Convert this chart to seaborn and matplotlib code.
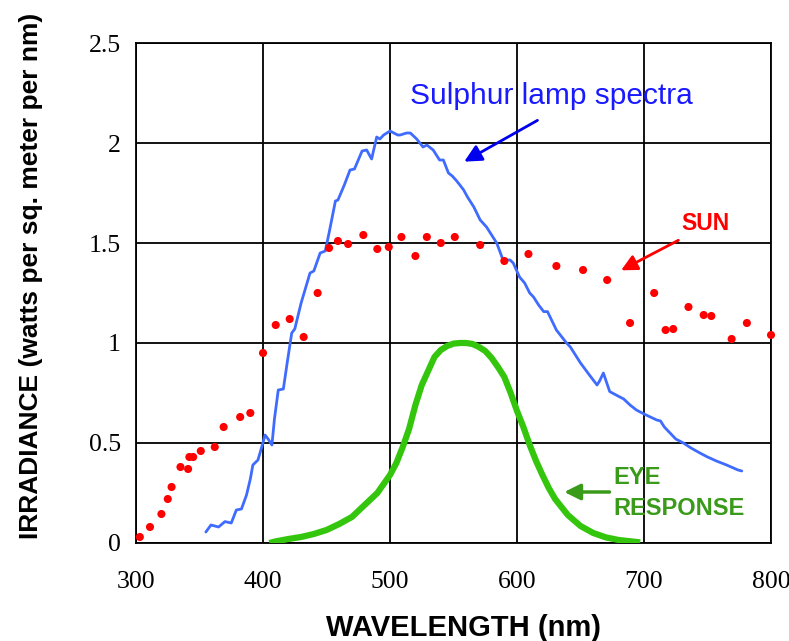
import numpy as np
import pandas as pd
import matplotlib
matplotlib.use("Agg")
import matplotlib.pyplot as plt
import seaborn as sns

# sun irradiance (red dots)
sun_nm = [303, 311, 320, 325, 328, 335, 341, 342, 345, 351, 362, 369, 382, 390,
          400, 410, 421, 432, 443, 452, 459, 467, 479, 490, 499, 509, 520, 529,
          540, 551, 571, 590, 609, 631, 652, 671, 689, 708, 717, 723, 735, 747,
          753, 769, 781, 800]
sun_val = [0.03, 0.08, 0.145, 0.22, 0.28, 0.38, 0.37, 0.43, 0.43, 0.46, 0.48, 0.58,
           0.63, 0.65, 0.95, 1.09, 1.12, 1.03, 1.25, 1.475, 1.51, 1.495, 1.54, 1.47,
           1.48, 1.53, 1.435, 1.53, 1.50, 1.53, 1.49, 1.41, 1.445, 1.385, 1.365,
           1.315, 1.10, 1.25, 1.065, 1.07, 1.18, 1.14, 1.135, 1.02, 1.10, 1.04]

# sulphur lamp spectrum (blue line)
lamp_nm = [355, 359, 362, 365, 370, 375, 379, 383, 387, 390, 392, 396, 399, 401.6,
           404, 407, 409, 412, 416, 419, 422.6, 425, 430, 437, 440, 445, 449, 452,
           457, 459, 464, 468.5, 472, 478, 481.6, 485.5, 489.5, 492, 495, 500, 506,
           508, 513, 516, 521, 526, 529, 534, 539, 542, 546, 549, 552.5, 555, 558,
           561, 566, 571, 576, 580, 584, 589, 594.5, 597, 602, 606, 610, 613, 617,
           621, 624, 631, 639, 642, 650, 657, 663, 665, 668, 673, 678, 684, 689,
           694, 700, 705, 710, 713, 716, 720.5, 725, 731, 737, 744, 750, 757, 765,
           774, 777]
lamp_val = [0.055, 0.09, 0.085, 0.08, 0.107, 0.10, 0.165, 0.17, 0.24, 0.32, 0.39,
            0.415, 0.48, 0.54, 0.52, 0.49, 0.62, 0.765, 0.77, 0.9, 1.05, 1.07, 1.2,
            1.35, 1.36, 1.45, 1.46, 1.55, 1.71, 1.715, 1.79, 1.865, 1.87, 1.96,
            1.965, 1.92, 2.03, 2.02, 2.04, 2.06, 2.04, 2.04, 2.05, 2.05, 2.02,
            1.98, 1.99, 1.965, 1.915, 1.915, 1.85, 1.835, 1.81, 1.79, 1.765, 1.73,
            1.68, 1.615, 1.58, 1.54, 1.50, 1.415, 1.415, 1.40, 1.33, 1.30, 1.25,
            1.23, 1.19, 1.157, 1.157, 1.065, 1.0, 0.98, 0.90, 0.84, 0.79, 0.81,
            0.85, 0.757, 0.74, 0.72, 0.69, 0.665, 0.645, 0.63, 0.615, 0.61, 0.58,
            0.55, 0.52, 0.50, 0.475, 0.45, 0.43, 0.41, 0.39, 0.365, 0.36]

# eye response (green line)
eye_nm = [405, 410, 420, 430, 440, 450, 460, 470, 480, 490, 500, 505, 510, 515,
          520, 525, 530, 535, 540, 545, 550, 555, 560, 565, 570, 575, 580, 585,
          590, 595, 600, 605, 610, 615, 620, 625, 630, 640, 650, 660, 670, 680,
          690, 697]
eye_val = [0.0, 0.008, 0.02, 0.03, 0.045, 0.065, 0.095, 0.13, 0.19, 0.25, 0.34,
           0.40, 0.48, 0.57, 0.69, 0.79, 0.86, 0.93, 0.965, 0.985, 0.997, 1.0,
           1.0, 0.995, 0.98, 0.96, 0.925, 0.88, 0.83, 0.75, 0.66, 0.58, 0.49,
           0.41, 0.34, 0.275, 0.22, 0.14, 0.085, 0.05, 0.028, 0.015, 0.008, 0.003]

x_ticks = [300, 400, 500, 600, 700, 800]
y_ticks = [0, 0.5, 1, 1.5, 2, 2.5]
y_tick_labels = ["0", "0.5", "1", "1.5", "2", "2.5"]

sns.set_style("white")
plt.rcParams['font.family'] = ['Liberation Sans', 'DejaVu Sans']
plt.rcParams['text.color'] = 'black'

fig = plt.figure(figsize=(7.89, 6.41), dpi=100)
ax = fig.add_axes([0.1724, 0.1529, 0.8048, 0.78])

sns.lineplot(x=lamp_nm, y=lamp_val, ax=ax, color="#3f6bff", lw=2.0,
             estimator=None, sort=False, zorder=3)
sns.lineplot(x=eye_nm, y=eye_val, ax=ax, color="#33c60c", lw=4.5,
             estimator=None, sort=False, zorder=3, solid_capstyle="butt")
sns.scatterplot(x=sun_nm, y=sun_val, ax=ax, color="#ff0000", s=34,
                edgecolor="none", zorder=4, clip_on=False)

ax.set_xlim(300, 800)
ax.set_ylim(0, 2.5)
ax.set_xticks(x_ticks)
ax.set_xticklabels([str(v) for v in x_ticks], family="Liberation Serif",
                   fontsize=18.5, color="black")
ax.set_yticks(y_ticks)
ax.set_yticklabels(y_tick_labels, family="Liberation Serif", fontsize=18.5,
                   color="black")
ax.tick_params(axis="x", length=0, pad=20)
ax.tick_params(axis="y", length=0, pad=11)
ax.grid(True, color="black", lw=1.3)
for sp in ax.spines.values():
    sp.set_color("black")
    sp.set_linewidth(1.3)

ax.set_xlabel("WAVELENGTH (nm)", fontsize=21, fontweight="heavy", color="black")
ax.xaxis.set_label_coords(0.515, -0.143)
ax.set_ylabel("IRRADIANCE (watts per sq. meter per nm)", fontsize=19,
              fontweight="heavy", color="black")
ax.yaxis.set_label_coords(-0.147, 0.535)

# annotations
ax.annotate("", xy=(556.5, 1.90), xytext=(618, 2.12),
            arrowprops=dict(arrowstyle="-|>", color="#0000ee", lw=2, mutation_scale=26))
ax.text(627, 2.235, "Sulphur lamp spectra", color="#1a1aff", fontsize=21.5,
        ha="center", va="center")

ax.annotate("", xy=(680, 1.357), xytext=(729, 1.52),
            arrowprops=dict(arrowstyle="-|>", color="#ff0000", lw=2, mutation_scale=24))
ax.text(748, 1.6, "SUN", color="#ff0000", fontsize=16.5, fontweight="bold",
        ha="center", va="center")

ax.annotate("", xy=(635, 0.255), xytext=(675, 0.255),
            arrowprops=dict(arrowstyle="-|>", color="#3a9a1a", lw=2.5, mutation_scale=24))
ax.text(675.5, 0.325, "EYE", color="#3a9a1a", fontsize=17, fontweight="bold",
        ha="left", va="center")
ax.text(675.5, 0.17, "RESPONSE", color="#3a9a1a", fontsize=17, fontweight="bold",
        ha="left", va="center")

fig.savefig("out.png", dpi=100)
